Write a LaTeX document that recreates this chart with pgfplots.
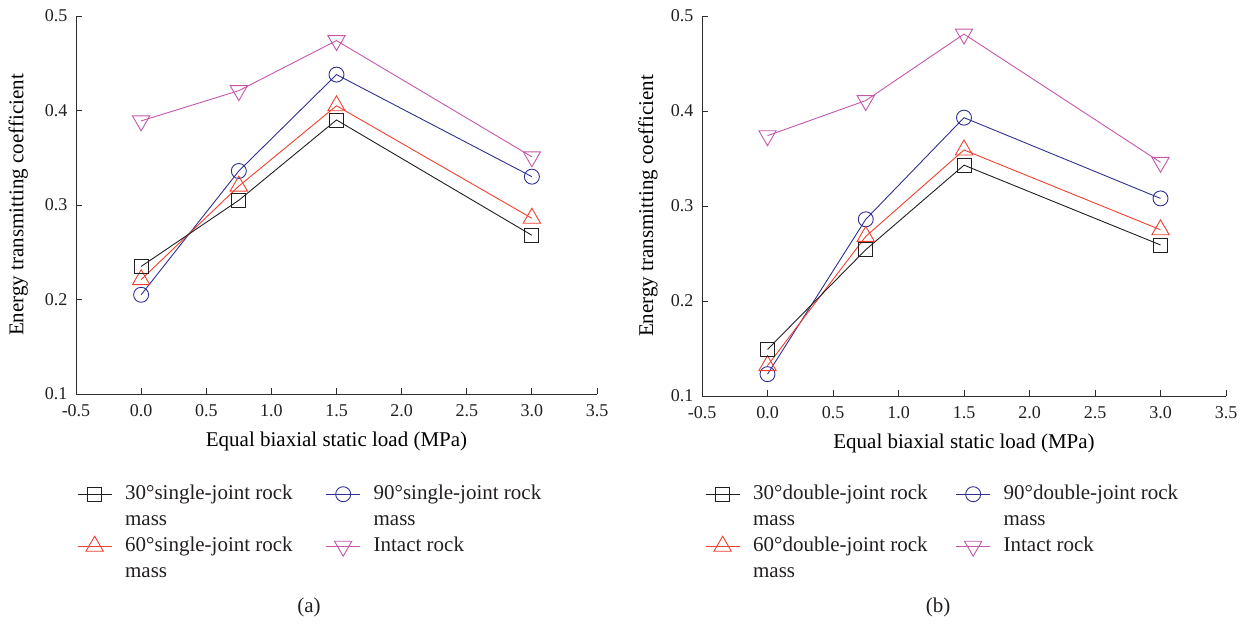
\documentclass[border=0pt]{standalone}
\usepackage{fontspec}
\setmainfont{Liberation Serif}
\usepackage{pgfplots}
\pgfplotsset{compat=1.18}
\definecolor{cblk}{RGB}{35,31,32}
\definecolor{cred}{RGB}{239,65,48}
\definecolor{cblu}{RGB}{46,49,146}
\definecolor{cpnk}{RGB}{196,87,170}
\definecolor{caxis}{RGB}{45,45,45}

\pgfplotsset{
  myaxis/.style={
    scale only axis,
    anchor=south west,
    axis lines=left,
    axis line style={-, caxis, line width=1pt},
    every tick/.style={caxis, line width=0.9pt},
    major tick length=6pt,
    tick align=inside,
    xmin=-0.5, xmax=3.5, ymin=0.1, ymax=0.5,
    xtick={-0.5,0,0.5,1,1.5,2,2.5,3,3.5},
    ytick={0.1,0.2,0.3,0.4,0.5},
    minor tick num=0,
    clip=false,
    font=\fontsize{21}{26}\selectfont,
    ticklabel style={font=\fontsize{18}{22}\selectfont, text=cblk},
    /pgf/number format/assume math mode=true,
    xticklabel style={yshift=-7pt, /pgf/number format/.cd, fixed, fixed zerofill, precision=1},
    yticklabel style={xshift=-5pt, /pgf/number format/.cd, fixed, fixed zerofill, precision=1},
    xlabel={Equal biaxial static load (MPa)},
    ylabel={Energy transmitting coefficient},
    label style={text=cblk},
    every axis x label/.style={at={(axis description cs:0.5,0)}, anchor=center, yshift=-47pt},
    legend columns=2,
    legend cell align=left,
    legend style={draw=none, fill=none, inner sep=0pt, anchor=north west,
      font=\fontsize{21}{26}\selectfont, text=cblk,
      nodes={inner sep=0pt, text height=15pt, text depth=5pt},
      row sep=6pt, column sep=13pt},
    legend image code/.code={\draw[mark repeat=2,mark phase=2] plot coordinates {(0pt,0pt)(17pt,0pt)(34pt,0pt)};},
    s30/.style={cblk, line width=0.9pt, mark=square, mark size=7pt, mark options={fill=white, solid}},
    s60/.style={cred, line width=0.9pt, mark=triangle, mark size=10pt, mark options={fill=white, solid}},
    s90/.style={cblu, line width=0.9pt, mark=o, mark size=7.5pt, mark options={fill=white, solid}},
    sint/.style={cpnk, line width=0.9pt, mark=triangle, mark size=10pt, mark options={fill=white, solid, rotate=180}},
  }
}

\begin{document}
\begin{tikzpicture}
\path[use as bounding box] (0pt,0pt) rectangle (1246pt,-627pt);

% ---------------- panel (a)
\begin{axis}[myaxis,
  at={(76pt,-394pt)}, width=521pt, height=378pt,
  every axis y label/.style={at={(axis description cs:-0.111,0.5)}, rotate=90, anchor=center},
  legend style={at={(axis description cs:0,0)}, xshift=1pt, yshift=-90pt,
    /tikz/column 2/.style={column sep=33pt}}]
\addplot[sint, forget plot] coordinates {(0,0.389) (0.75,0.421) (1.5,0.474) (3,0.351)};
\addplot[s90, forget plot] coordinates {(0,0.205) (0.75,0.336) (1.5,0.438) (3,0.330)};
\addplot[s60, forget plot] coordinates {(0,0.221) (0.75,0.320) (1.5,0.405) (3,0.286)};
\addplot[s30, forget plot] coordinates {(0,0.235) (0.75,0.305) (1.5,0.390) (3,0.268)};
\addlegendimage{s30}\addlegendentry{30°single-joint rock}
\addlegendimage{s90}\addlegendentry{90°single-joint rock}
\addlegendimage{empty legend}\addlegendentry{mass}
\addlegendimage{empty legend}\addlegendentry{mass}
\addlegendimage{s60}\addlegendentry{60°single-joint rock}
\addlegendimage{sint}\addlegendentry{Intact rock}
\addlegendimage{empty legend}\addlegendentry{mass}
\end{axis}

% ---------------- panel (b)
\begin{axis}[myaxis,
  at={(702pt,-396pt)}, width=524pt, height=380pt,
  every axis y label/.style={at={(axis description cs:-0.103,0.5)}, rotate=90, anchor=center},
  legend style={at={(axis description cs:0,0)}, xshift=3pt, yshift=-88pt,
    /tikz/column 2/.style={column sep=28pt}}]
\addplot[sint, forget plot] coordinates {(0,0.374) (0.75,0.411) (1.5,0.481) (3,0.346)};
\addplot[s90, forget plot] coordinates {(0,0.123) (0.75,0.286) (1.5,0.393) (3,0.308)};
\addplot[s60, forget plot] coordinates {(0,0.132) (0.75,0.268) (1.5,0.359) (3,0.275)};
\addplot[s30, forget plot] coordinates {(0,0.149) (0.75,0.254) (1.5,0.343) (3,0.259)};
\addlegendimage{s30}\addlegendentry{30°double-joint rock}
\addlegendimage{s90}\addlegendentry{90°double-joint rock}
\addlegendimage{empty legend}\addlegendentry{mass}
\addlegendimage{empty legend}\addlegendentry{mass}
\addlegendimage{s60}\addlegendentry{60°double-joint rock}
\addlegendimage{sint}\addlegendentry{Intact rock}
\addlegendimage{empty legend}\addlegendentry{mass}
\end{axis}

\node[font=\fontsize{21}{26}\selectfont, text=cblk] at (309pt,-607pt) {(a)};
\node[font=\fontsize{21}{26}\selectfont, text=cblk] at (938pt,-607pt) {(b)};
\end{tikzpicture}
\end{document}
